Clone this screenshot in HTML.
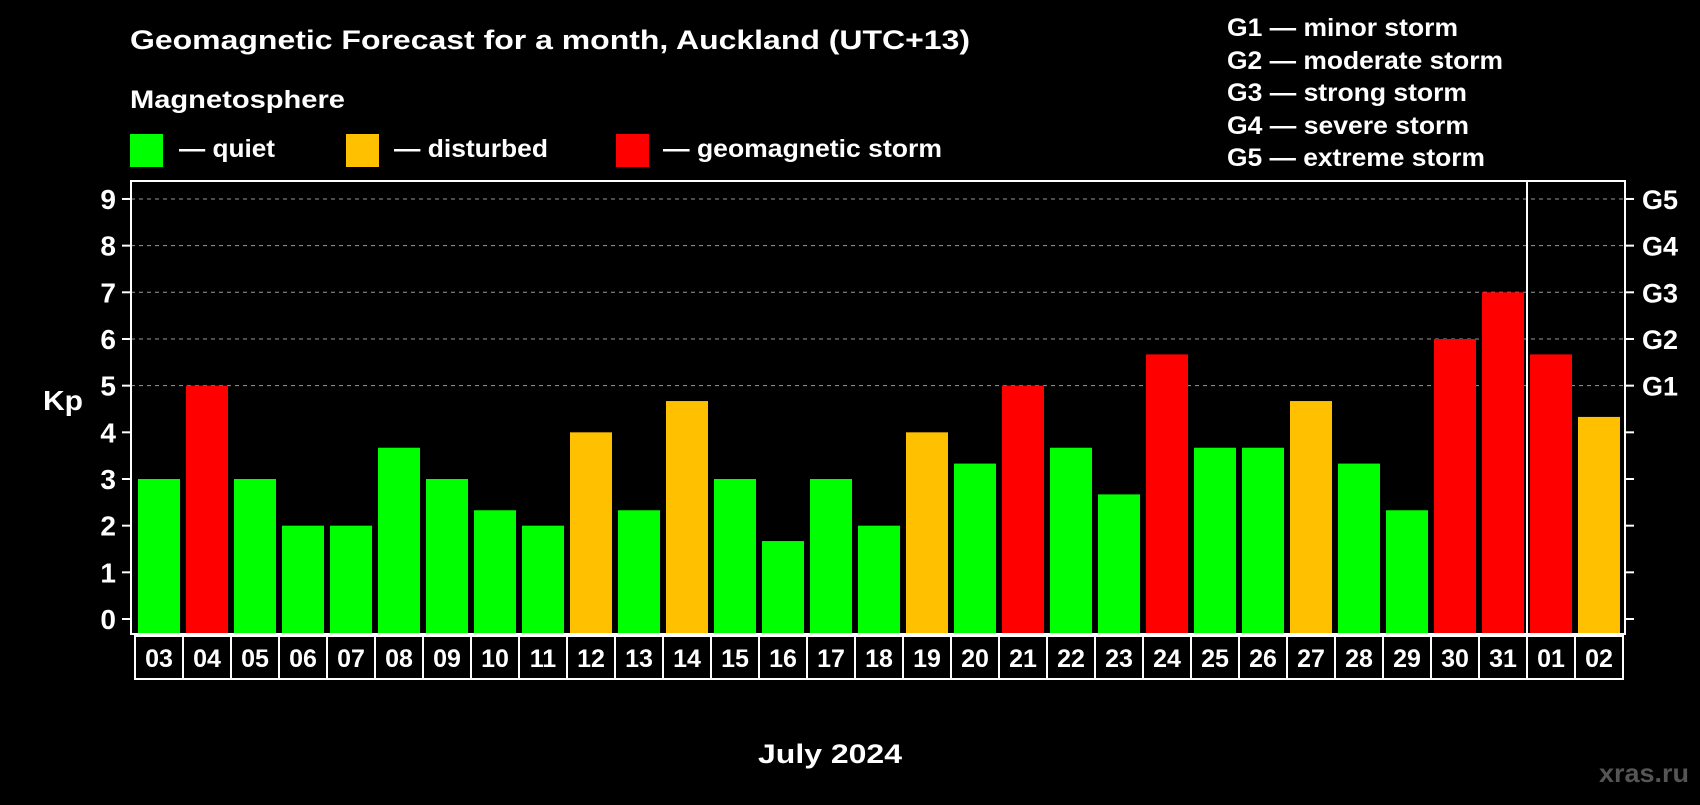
<!DOCTYPE html>
<html><head><meta charset="utf-8"><style>
html,body{margin:0;padding:0;background:#000;}
svg text{font-family:"Liberation Sans",sans-serif;font-weight:bold;fill:#fff;}
</style></head><body>
<svg id="chart" width="1700" height="800" viewBox="0 0 1700 800" xmlns="http://www.w3.org/2000/svg">
<rect width="1700" height="800" fill="#000"/>
<text x="130" y="49" font-size="27" textLength="840" lengthAdjust="spacingAndGlyphs">Geomagnetic Forecast for a month, Auckland (UTC+13)</text>
<text x="130" y="108" font-size="25" textLength="215" lengthAdjust="spacingAndGlyphs">Magnetosphere</text>
<g><rect x="130" y="134" width="33" height="33" fill="#00ff00"/><text x="179" y="157" font-size="25" textLength="96" lengthAdjust="spacingAndGlyphs">— quiet</text></g>
<g><rect x="346" y="134" width="33" height="33" fill="#ffc000"/><text x="394" y="157" font-size="25" textLength="154" lengthAdjust="spacingAndGlyphs">— disturbed</text></g>
<g><rect x="616" y="134" width="33" height="33" fill="#ff0000"/><text x="663" y="157" font-size="25" textLength="279" lengthAdjust="spacingAndGlyphs">— geomagnetic storm</text></g>
<g font-size="25">
<text x="1227" y="36" textLength="231" lengthAdjust="spacingAndGlyphs">G1 — minor storm</text>
<text x="1227" y="69" textLength="276" lengthAdjust="spacingAndGlyphs">G2 — moderate storm</text>
<text x="1227" y="101" textLength="240" lengthAdjust="spacingAndGlyphs">G3 — strong storm</text>
<text x="1227" y="134" textLength="242" lengthAdjust="spacingAndGlyphs">G4 — severe storm</text>
<text x="1227" y="166" textLength="258" lengthAdjust="spacingAndGlyphs">G5 — extreme storm</text>
</g>
<text x="43" y="410" font-size="28" textLength="40" lengthAdjust="spacingAndGlyphs">Kp</text>
<text x="758" y="763" font-size="27" textLength="144" lengthAdjust="spacingAndGlyphs">July 2024</text>
<text x="1599" y="782" font-size="26" textLength="90" lengthAdjust="spacingAndGlyphs" style="fill:#555">xras.ru</text>
<g id="grid"></g>
<g id="bars"></g>
<rect x="131" y="181" width="1494" height="453" fill="none" stroke="#fff" stroke-width="2"/>
<line x1="1527" y1="181" x2="1527" y2="634" stroke="#fff" stroke-width="2"/>
<g id="labels"></g>
</svg>
<script>
const days = ["03","04","05","06","07","08","09","10","11","12","13","14","15","16","17","18","19","20","21","22","23","24","25","26","27","28","29","30","31","01","02"];
const kp = [3,5,3,2,2,3.67,3,2.33,2,4,2.33,4.67,3,1.67,3,2,4,3.33,5,3.67,2.67,5.67,3.67,3.67,4.67,3.33,2.33,6,7,5.67,4.33];
const yTicks = [0,1,2,3,4,5,6,7,8,9];
const gLabels = ["","","","","","G1","G2","G3","G4","G5"];
const NS="http://www.w3.org/2000/svg";
const y0=619, yUnit=46.67, plotBottom=634, x0=138, pitch=48, bw=42;
const yS=v=>y0-v*yUnit;
const xS=i=>x0+i*pitch;
function mk(tag,attrs,parent){const e=document.createElementNS(NS,tag);for(const k in attrs)e.setAttribute(k,attrs[k]);parent.appendChild(e);return e;}
const grid=document.getElementById('grid'),bars=document.getElementById('bars'),labels=document.getElementById('labels');
yTicks.forEach((t,i)=>{
  const y=yS(t);
  if(t>=5){const g=mk('line',{x1:131,x2:1625,y1:y,y2:y,stroke:'#999','stroke-width':1,'stroke-dasharray':'4 4'},grid);
  
  }
  const l=mk('line',{x1:122,x2:131,y1:y,y2:y,stroke:'#fff','stroke-width':2},grid);
  
  
  const r=mk('line',{x1:1625,x2:1634,y1:y,y2:y,stroke:'#fff','stroke-width':2},grid);
  
  
  const tx=mk('text',{x:116,y:y+10,'font-size':28,'text-anchor':'end'},grid);tx.textContent=t;
  
  
  if(gLabels[i]){const gt=mk('text',{x:1642,y:y+10,'font-size':27},grid);gt.textContent=gLabels[i];
  
  }
});
days.forEach((d,i)=>{
  const v=kp[i];
  const col=v>=5?'#ff0000':(v>=4?'#ffc000':'#00ff00');
  const b=mk('rect',{x:xS(i),y:yS(v),width:bw,height:plotBottom-yS(v),fill:col},bars);
  
  
  const bx=mk('rect',{x:xS(i)-3,y:636,width:pitch,height:43,fill:'none',stroke:'#fff','stroke-width':2},labels);
  
  
  const t=mk('text',{x:xS(i)+bw/2,y:667,'font-size':25,'text-anchor':'middle'},labels);t.textContent=d;
  
  
});
</script>
</body></html>
